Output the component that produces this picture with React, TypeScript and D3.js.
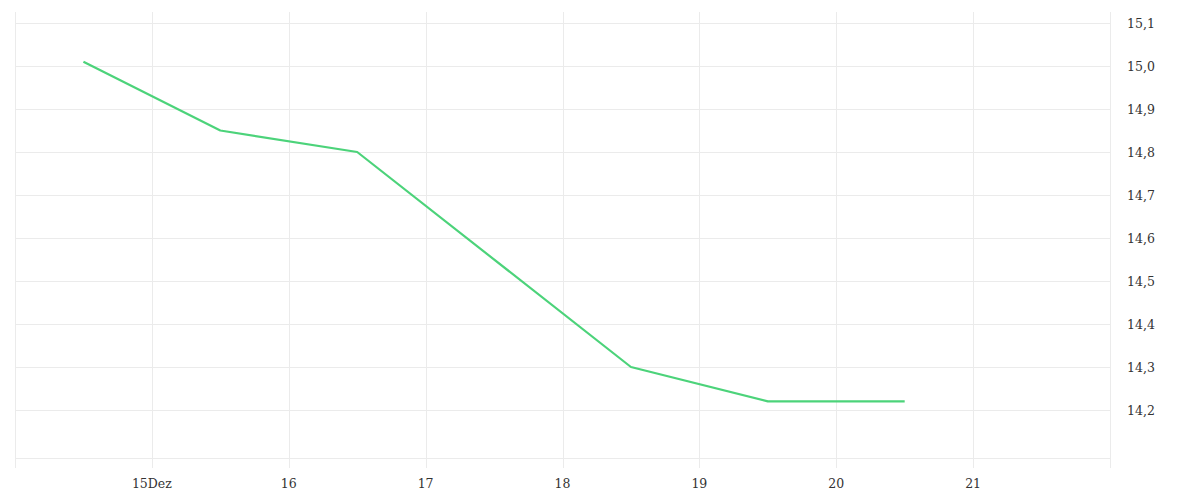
import React from "react";
import * as d3 from "d3";

const dates = ["2020-12-14T12:00", "2020-12-15T12:00", "2020-12-16T12:00", "2020-12-18T12:00", "2020-12-19T12:00", "2020-12-20T12:00"];
const values = [15.01, 14.85, 14.8, 14.3, 14.22, 14.22];
const xTickDays = [15, 16, 17, 18, 19, 20, 21];
const xTickLabels = ["15Dez", "16", "17", "18", "19", "20", "21"];
const yTicks = [14.2, 14.3, 14.4, 14.5, 14.6, 14.7, 14.8, 14.9, 15.0, 15.1];

const W = 1200, H = 500;
const left = 15, right = 1110, top = 12, bottom = 458;

export default function App() {
  const x = d3.scaleTime()
    .domain([new Date(2020, 11, 14), new Date(2020, 11, 22)])
    .range([left, right]);
  const y = d3.scaleLinear().domain([14.2, 15.1]).range([410, 23]);
  const parsed = dates.map((d) => new Date(d));
  const line = d3.line<number>()
    .x((_, i) => x(parsed[i]))
    .y((v) => y(v));
  const grid = "#ebebeb";
  const vlines = [14, ...xTickDays, 22];
  return (
    <svg width={W} height={H} style={{ position: "absolute", left: 0, top: 0 }}>
      <rect width={W} height={H} fill="#fff" />
      {yTicks.map((t) => (
        <line key={t} x1={left} x2={right} y1={Math.round(y(t)) + 0.5} y2={Math.round(y(t)) + 0.5} stroke={grid} strokeWidth={1} />
      ))}
      <line x1={left} x2={right} y1={bottom + 0.5} y2={bottom + 0.5} stroke={grid} strokeWidth={1} />
      {vlines.map((d) => {
        const xx = Math.round(x(new Date(2020, 11, d))) + 0.5;
        return <line key={d} x1={xx} x2={xx} y1={top} y2={468} stroke={grid} strokeWidth={1} />;
      })}
      <path d={line(values) || ""} fill="none" stroke="#4cd37a" strokeWidth={2.2} strokeLinejoin="round" />
      {xTickDays.map((d, i) => (
        <text key={d} x={x(new Date(2020, 11, d))} y={488} textAnchor="middle" fontFamily="'DejaVu Serif', serif" fontSize={12.5} fill="#333">
          {xTickLabels[i]}
        </text>
      ))}
      {yTicks.map((t) => (
        <text key={t} x={1127} y={y(t) + 5} fontFamily="'DejaVu Serif', serif" fontSize={12.5} fill="#333">
          {d3.format(".1f")(t).replace(".", ",")}
        </text>
      ))}
    </svg>
  );
}
